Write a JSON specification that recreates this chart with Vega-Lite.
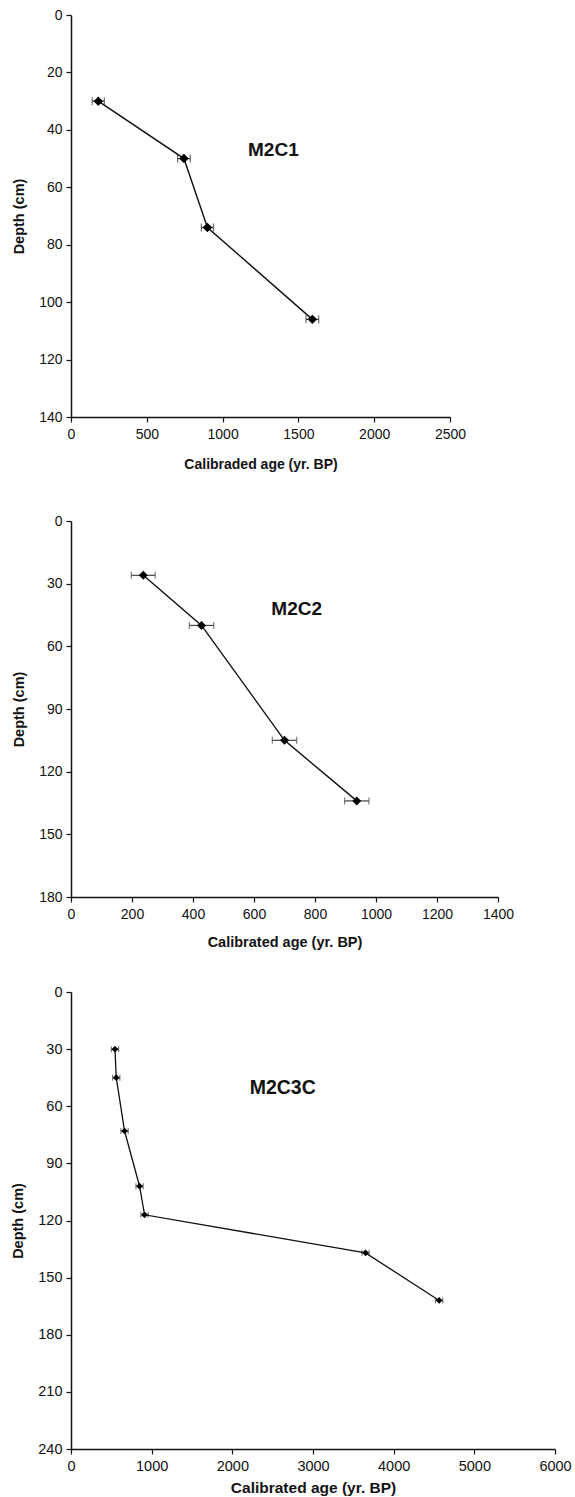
{
  "$schema": "https://vega.github.io/schema/vega-lite/v6.json",
  "padding": {"left": 10, "top": 8, "right": 4, "bottom": 4},
  "background": "white",
  "datasets": {
    "m2c1": [
      {"age": 180, "err": 40, "depth": 30},
      {"age": 745, "err": 42, "depth": 50},
      {"age": 900, "err": 40, "depth": 74},
      {"age": 1592, "err": 42, "depth": 106}
    ],
    "m2c2": [
      {"age": 237, "err": 39, "depth": 26},
      {"age": 428, "err": 40, "depth": 50},
      {"age": 700, "err": 40, "depth": 105},
      {"age": 937, "err": 40, "depth": 134}
    ],
    "m2c3c": [
      {"age": 545, "err": 45, "depth": 30},
      {"age": 561, "err": 45, "depth": 45},
      {"age": 664, "err": 45, "depth": 73},
      {"age": 850, "err": 45, "depth": 102},
      {"age": 912, "err": 45, "depth": 117},
      {"age": 3651, "err": 45, "depth": 137},
      {"age": 4564, "err": 45, "depth": 162}
    ]
  },
  "spacing": 35,
  "vconcat": [
    {
      "width": 379,
      "height": 402,
      "layer": [
        {
          "data": {"name": "m2c1"},
          "encoding": {
            "x": {"field": "age", "type": "quantitative",
              "scale": {"domain": [0, 2500], "nice": false},
              "axis": {"title": "Calibraded age (yr. BP)", "values": [0, 500, 1000, 1500, 2000, 2500], "format": "d", "titlePadding": 16, "labelFontSize": 14, "titleFontSize": 14}},
            "y": {"field": "depth", "type": "quantitative",
              "scale": {"domain": [0, 140], "reverse": true, "nice": false},
              "axis": {"title": "Depth (cm)", "values": [0, 20, 40, 60, 80, 100, 120, 140], "format": "d", "titlePadding": 12}}
          },
          "layer": [
            {"mark": {"type": "errorbar", "ticks": true, "size": 8, "thickness": 1.2, "color": "#333"},
             "encoding": {"xError": {"field": "err"}}},
            {"mark": {"type": "line", "color": "#111", "strokeWidth": 1.4},
             "encoding": {"order": {"field": "depth", "type": "quantitative"}}},
            {"mark": {"type": "point", "shape": "diamond", "filled": true, "color": "#000", "opacity": 1, "size": 90}}
          ]
        },
        {"data": {"values": [{"label": "M2C1"}]},
         "mark": {"type": "text", "font": "Liberation Sans", "fontWeight": "bold", "fontSize": 19, "color": "#111"},
         "encoding": {"x": {"datum": 1335, "type": "quantitative"}, "y": {"datum": 47, "type": "quantitative"}, "text": {"field": "label"}}}
      ]
    },
    {
      "width": 427,
      "height": 376,
      "title": {"text": " ", "fontSize": 4, "offset": 4},
      "layer": [
        {
          "data": {"name": "m2c2"},
          "encoding": {
            "x": {"field": "age", "type": "quantitative",
              "scale": {"domain": [0, 1400], "nice": false},
              "axis": {"title": "Calibrated age (yr. BP)", "values": [0, 200, 400, 600, 800, 1000, 1200, 1400], "format": "d", "titlePadding": 14, "labelFontSize": 14, "titleFontSize": 14.5}},
            "y": {"field": "depth", "type": "quantitative",
              "scale": {"domain": [0, 180], "reverse": true, "nice": false},
              "axis": {"title": "Depth (cm)", "values": [0, 30, 60, 90, 120, 150, 180], "format": "d", "titlePadding": 12}}
          },
          "layer": [
            {"mark": {"type": "errorbar", "ticks": true, "size": 7, "thickness": 1.2, "color": "#444"},
             "encoding": {"xError": {"field": "err"}}},
            {"mark": {"type": "line", "color": "#111", "strokeWidth": 1.4},
             "encoding": {"order": {"field": "depth", "type": "quantitative"}}},
            {"mark": {"type": "point", "shape": "diamond", "filled": true, "color": "#000", "opacity": 1, "size": 80}}
          ]
        },
        {"data": {"values": [{"label": "M2C2"}]},
         "mark": {"type": "text", "font": "Liberation Sans", "fontWeight": "bold", "fontSize": 19, "color": "#111"},
         "encoding": {"x": {"datum": 740, "type": "quantitative"}, "y": {"datum": 42, "type": "quantitative"}, "text": {"field": "label"}}}
      ]
    },
    {
      "width": 484,
      "height": 457,
      "layer": [
        {
          "data": {"name": "m2c3c"},
          "encoding": {
            "x": {"field": "age", "type": "quantitative",
              "scale": {"domain": [0, 6000], "nice": false},
              "axis": {"title": "Calibrated age (yr. BP)", "values": [0, 1000, 2000, 3000, 4000, 5000, 6000], "format": "d", "titlePadding": 8, "labelFontSize": 14.5, "titleFontSize": 15.5}},
            "y": {"field": "depth", "type": "quantitative",
              "scale": {"domain": [0, 240], "reverse": true, "nice": false},
              "axis": {"title": "Depth (cm)", "values": [0, 30, 60, 90, 120, 150, 180, 210, 240], "format": "d", "titlePadding": 12, "labelFontSize": 14.5}}
          },
          "layer": [
            {"mark": {"type": "errorbar", "ticks": true, "size": 6, "thickness": 1.2, "color": "#444"},
             "encoding": {"xError": {"field": "err"}}},
            {"mark": {"type": "line", "color": "#111", "strokeWidth": 1.3},
             "encoding": {"order": {"field": "depth", "type": "quantitative"}}},
            {"mark": {"type": "point", "shape": "diamond", "filled": true, "color": "#000", "opacity": 1, "size": 45}}
          ]
        },
        {"data": {"values": [{"label": "M2C3C"}]},
         "mark": {"type": "text", "font": "Liberation Sans", "fontWeight": "bold", "fontSize": 19.5, "color": "#111"},
         "encoding": {"x": {"datum": 2625, "type": "quantitative"}, "y": {"datum": 50.4, "type": "quantitative"}, "text": {"field": "label"}}}
      ]
    }
  ],
  "config": {
    "view": {"stroke": null},
    "font": "Liberation Sans",
    "axis": {
      "grid": false,
      "domainColor": "#111",
      "domainWidth": 1.5,
      "tickColor": "#111",
      "tickWidth": 1.2,
      "tickSize": 5,
      "labelColor": "#111",
      "titleColor": "#111",
      "labelFont": "Liberation Sans",
      "titleFont": "Liberation Sans",
      "labelFontSize": 14,
      "titleFontSize": 14.5,
      "titleFontWeight": "bold",
      "labelPadding": 5,
      "labelFlush": false,
      "labelOverlap": false
    },
    "axisY": {"labelPadding": 4}
  }
}
